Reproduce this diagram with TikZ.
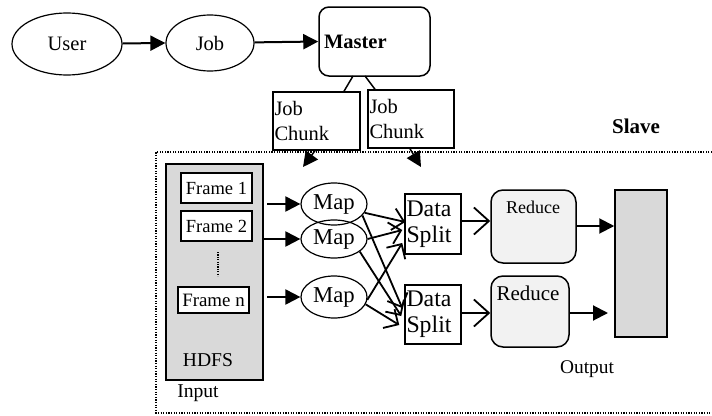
\documentclass[tikz,border=0pt]{standalone}
\usepackage{fontspec}
\setmainfont{Liberation Serif}
\usetikzlibrary{shapes.geometric,arrows.meta,calc}
\tikzset{
  oval/.style={draw,ellipse,line width=1.2pt,inner sep=0pt},
  plainbox/.style={draw,rectangle,line width=1.5pt,inner sep=0pt},
  fillarrow/.style={line width=2pt,-{Triangle[length=15pt,width=15pt]}},
  smallfill/.style={line width=1.5pt,-{Triangle[length=15pt,width=15pt]}},
  barb/.style={line width=1.8pt,-{Straight Barb[length=11pt,width=22pt,line width=1.8pt]}},
  bigbarb/.style={line width=1.8pt,-{Straight Barb[length=15pt,width=27pt,line width=1.8pt]}},
  grayfill/.style={fill=black!15},
  lightfill/.style={fill=black!5},
  slaveline/.style={line width=1.3pt,dash pattern=on 1.3pt off 1.3pt},
}
\begin{document}
\begin{tikzpicture}[x=1pt,y=-1pt]
\useasboundingbox (0,0) rectangle (712,415);
% top row
\node[oval,minimum width=110pt,minimum height=62pt,font=\fontsize{20.5}{22}\selectfont] (user) at (67,44) {User};
\node[oval,minimum width=88pt,minimum height=56pt,font=\fontsize{20.5}{22}\selectfont] (job) at (210,43) {Job};
\node[plainbox,rounded corners=10pt,minimum width=111pt,minimum height=69pt,text width=101pt,align=left,inner xsep=5pt,font=\fontsize{20.5}{22}\selectfont] (master) at (374.5,41.5) {\textbf{Master}};
\draw[fillarrow] (user) -- (job.west);
\draw[fillarrow] (job) -- (master.west);
% job chunks
\node[plainbox,minimum width=87pt,minimum height=58pt,text width=84pt,align=left,inner xsep=1.5pt,font=\fontsize{20.5}{25}\selectfont] (jc1) at (316.5,121) {Job\\Chunk};
\node[plainbox,minimum width=86pt,minimum height=58pt,text width=83pt,align=left,inner xsep=1.5pt,font=\fontsize{20.5}{25}\selectfont] (jc2) at (411,119) {Job\\Chunk};
\coordinate (m1) at (353,76);
\coordinate (m2) at (365,76);
\draw[line width=1.5pt] (m1) -- (jc1.north -| 344,0);
\draw[line width=1.5pt] (m2) -- (jc2.north -| 375,0);
% slave region
\draw[slaveline] (712,152) -| (156,413) -- (712,413);
\node[font=\fontsize{21}{23}\selectfont\bfseries] (slave) at (636,126) {Slave};
\coordinate (t1) at (303,167);
\coordinate (t2) at (421,167);
\draw[smallfill] (jc1.south -| 315,0) -- (t1);
\draw[smallfill] (jc2.south -| 410,0) -- (t2);
% HDFS
\node[plainbox,grayfill,minimum width=97pt,minimum height=216pt] (hdfs) at (214.5,272) {};
\node[font=\fontsize{19.6}{22}\selectfont] (hdfsl) at (208,360) {HDFS};
\node[font=\fontsize{19.6}{22}\selectfont] (input) at (198,393) {Input};
\node[plainbox,fill=white,minimum width=71pt,minimum height=30pt,font=\fontsize{18.5}{20}\selectfont] (f1) at (216.5,188) {Frame 1};
\node[plainbox,fill=white,minimum width=71pt,minimum height=30pt,font=\fontsize{18.5}{20}\selectfont] (f2) at (216.5,226) {Frame 2};
\node[plainbox,fill=white,minimum width=71pt,minimum height=26pt,font=\fontsize{18.9}{20}\selectfont] (fn) at (213.5,300) {Frame n};
\coordinate (d1) at (218,252);
\coordinate (d2) at (218,276);
\draw[line width=1.2pt,dash pattern=on 1.2pt off 1.2pt] (d1) -- (d2);
% maps
\node[oval,minimum width=66pt,minimum height=42pt,font=\fontsize{22.7}{24}\selectfont] (map1) at (334,204) {Map};
\node[oval,minimum width=66pt,minimum height=38pt,font=\fontsize{22.7}{24}\selectfont] (map2) at (334,239) {Map};
\node[oval,minimum width=66pt,minimum height=42pt,font=\fontsize{22.7}{24}\selectfont] (map3) at (334,297) {Map};
\coordinate (a1) at (267,204);
\coordinate (a3) at (267,297);
\draw[fillarrow] (a1) -- (map1.west);
\draw[fillarrow] (hdfs.east |- map2) -- (map2.west);
\draw[fillarrow] (a3) -- (map3.west);
% data split
\node[plainbox,minimum width=56pt,minimum height=60pt,text width=53pt,align=left,inner xsep=1.5pt,font=\fontsize{23.8}{26}\selectfont] (ds1) at (433,224) {Data\\Split};
\node[plainbox,minimum width=56pt,minimum height=59pt,text width=53pt,align=left,inner xsep=1.5pt,font=\fontsize{23.8}{26}\selectfont] (ds2) at (433,314.5) {Data\\Split};
\draw[barb] (map1.-16) -- ($(ds1.west)+(1,-2)$);
\draw[barb] (map1.-22) -- ($(ds2.west)+(-2,-6.5)$);
\draw[barb] (map2.0) -- ($(ds1.west)+(-2,6)$);
\draw[barb] (map2.-26) -- ($(ds2.west)+(-3,1.5)$);
\draw[barb] (map3.-5) -- ($(ds1.west)+(-2,19)$);
\draw[barb] (map3.-13) -- ($(ds2.west)+(-5,10.5)$);
% reduce
\node[plainbox,lightfill,rounded corners=12pt,minimum width=85pt,minimum height=73pt] (red1) at (533.5,226.5) {};
\node[font=\fontsize{18}{20}\selectfont] (red1l) at (533,207) {Reduce};
\node[plainbox,lightfill,rounded corners=12pt,minimum width=78pt,minimum height=71pt] (red2) at (530,311.5) {};
\node[font=\fontsize{21}{23}\selectfont] (red2l) at (528,293) {Reduce};
\draw[bigbarb] (ds1.east |- 0,221) -- (red1.west |- 0,221);
\draw[bigbarb] (ds2.east |- 0,313) -- (red2.west |- 0,313);
% output
\node[plainbox,grayfill,minimum width=52pt,minimum height=147pt] (out) at (641,263.5) {};
\node[font=\fontsize{19.4}{22}\selectfont] (outl) at (587,369) {Output};
\coordinate (o2) at (608,313);
\draw[fillarrow] (red1.east |- 0,226) -- (out.west |- 0,226);
\draw[fillarrow] (red2.east |- 0,313) -- (o2);
\end{tikzpicture}
\end{document}
